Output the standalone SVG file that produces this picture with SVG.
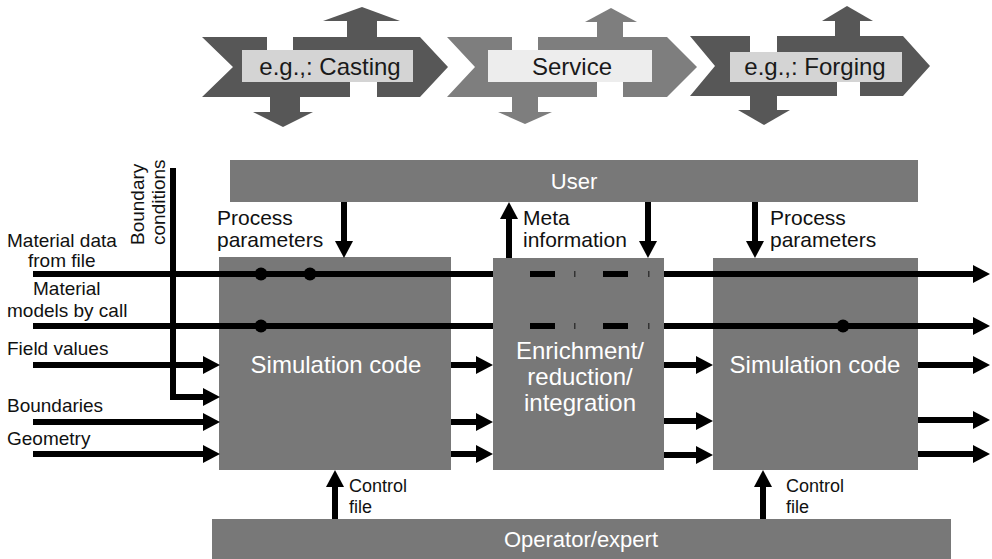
<svg xmlns="http://www.w3.org/2000/svg" width="992" height="559" viewBox="0 0 992 559">
<style>
text{font-family:"Liberation Sans",Arial,sans-serif}
.dark{fill:#575757}
.mid{fill:#7e7e7e}
.lbl{fill:#d4d4d4}
.lbl2{fill:#ededed}
.slit{fill:#ffffff}
.big{font-size:24px;fill:#1a1a1a;text-anchor:middle}
.box{fill:#787878}
.wt{fill:#ffffff;text-anchor:middle;font-size:24px}
.lab{font-size:19px;fill:#111}
.lab2{font-size:21px;fill:#111}
.lab3{font-size:18px;fill:#111}
.ln{stroke:#000;stroke-width:6;fill:none}
.arr{stroke:#000;stroke-width:6;fill:none;marker-end:url(#ah)}
.dot{fill:#000}
.dash{fill:#000}
.tick{fill:#333}
</style>
<defs>
<marker id="ah" markerWidth="18" markerHeight="20" refX="7" refY="10" orient="auto" markerUnits="userSpaceOnUse">
<path d="M0,1 L17,10 L0,19 z" fill="#000"/>
</marker>
</defs>

<g id="casting">
<polygon class="dark" points="202,37 420,37 448,67 420,97 202,97 233,67"/>
<rect class="dark" x="347" y="20" width="30" height="18"/>
<polygon class="dark" points="323,21 400,21 362,7"/>
<rect class="dark" x="270" y="96" width="30" height="17"/>
<polygon class="dark" points="253,112 313,112 283,127"/>
<rect class="slit" x="267" y="36" width="26" height="15"/>
<rect class="slit" x="350" y="81" width="27" height="17"/>
<rect class="lbl" x="242" y="50" width="171" height="32"/>
<text class="big" x="330" y="75">e.g.,: Casting</text>
</g>

<g id="service">
<polygon class="mid" points="447,37 667,37 697,67 667,97 447,97 475,67"/>
<rect class="mid" x="597" y="21" width="26" height="17"/>
<polygon class="mid" points="585,22 637,22 611,8"/>
<rect class="mid" x="512" y="96" width="26" height="17"/>
<polygon class="mid" points="498,112 552,112 525,124"/>
<rect class="slit" x="512" y="36" width="26" height="15"/>
<rect class="slit" x="597" y="81" width="26" height="17"/>
<rect class="lbl2" x="488" y="50" width="164" height="32"/>
<text class="big" x="572" y="75">Service</text>
</g>

<g id="forging">
<polygon class="dark" points="690,36 903,36 930,66 903,96 690,96 715,66"/>
<rect class="dark" x="835" y="20" width="25" height="17"/>
<polygon class="dark" points="822,21 873,21 847,6"/>
<rect class="dark" x="750" y="95" width="27" height="16"/>
<polygon class="dark" points="738,110 790,110 764,125"/>
<rect class="slit" x="750" y="35" width="27" height="17"/>
<rect class="slit" x="837" y="81" width="23" height="16"/>
<rect class="lbl" x="730" y="52" width="172" height="30"/>
<text class="big" x="815" y="75">e.g.,: Forging</text>
</g>

<g id="user">
<rect class="box" x="230" y="160" width="688" height="42"/>
<text class="wt" x="574" y="189" style="font-size:22px">User</text>
</g>

<g id="sim1">
<rect class="box" x="219" y="257" width="232" height="213"/>
<text class="wt" x="336" y="373">Simulation code</text>
</g>

<g id="enrich">
<rect class="box" x="493" y="258" width="171" height="212"/>
<text class="wt" x="580" y="359">Enrichment/</text>
<text class="wt" x="580" y="385">reduction/</text>
<text class="wt" x="580" y="411">integration</text>
</g>

<g id="sim2">
<rect class="box" x="713" y="258" width="205" height="212"/>
<text class="wt" x="815" y="373">Simulation code</text>
</g>

<g id="operator">
<rect class="box" x="212" y="519" width="739" height="40"/>
<text class="wt" x="581" y="547" style="font-size:22px">Operator/expert</text>
</g>

<g id="labels">
<text class="lab" x="7" y="247">Material data</text>
<text class="lab" x="28" y="267">from file</text>
<text class="lab" x="33" y="295">Material</text>
<text class="lab" x="7" y="317">models by call</text>
<text class="lab" x="7" y="355">Field values</text>
<text class="lab" x="7" y="412">Boundaries</text>
<text class="lab" x="7" y="445">Geometry</text>
<text class="lab" transform="translate(144,245) rotate(-90)">Boundary</text>
<text class="lab" transform="translate(165,245) rotate(-90)">conditions</text>
<text class="lab2" x="217" y="225">Process</text>
<text class="lab2" x="217" y="247">parameters</text>
<text class="lab2" x="523" y="225">Meta</text>
<text class="lab2" x="523" y="247">information</text>
<text class="lab2" x="770" y="225">Process</text>
<text class="lab2" x="770" y="247">parameters</text>
<text class="lab3" x="349" y="492">Control</text>
<text class="lab3" x="349" y="513">file</text>
<text class="lab3" x="786" y="492">Control</text>
<text class="lab3" x="786" y="513">file</text>
</g>

<g id="connectors">
<line class="ln" x1="33" y1="274" x2="493" y2="274"/>
<line class="arr" x1="664" y1="274" x2="980" y2="274"/>
<line class="ln" x1="33" y1="326" x2="493" y2="326"/>
<line class="arr" x1="664" y1="326" x2="980" y2="326"/>
<rect class="dash" x="530" y="271" width="25" height="6"/>
<rect class="tick" x="574" y="271" width="1.5" height="6"/>
<rect class="dash" x="603" y="271" width="25" height="6"/>
<rect class="tick" x="648" y="271" width="1.5" height="6"/>
<rect class="dash" x="530" y="323" width="25" height="6"/>
<rect class="tick" x="574" y="323" width="1.5" height="6"/>
<rect class="dash" x="603" y="323" width="25" height="6"/>
<rect class="tick" x="648" y="323" width="1.5" height="6"/>
<circle class="dot" cx="261" cy="274" r="6.5"/>
<circle class="dot" cx="310" cy="274" r="6.5"/>
<circle class="dot" cx="261" cy="326" r="6.5"/>
<circle class="dot" cx="843" cy="326" r="6.5"/>
<line class="arr" x1="33" y1="365" x2="210" y2="365"/>
<polyline class="arr" points="173,168 173,397 210,397"/>
<line class="arr" x1="33" y1="422" x2="210" y2="422"/>
<line class="arr" x1="33" y1="454" x2="210" y2="454"/>
<line class="arr" x1="451" y1="365" x2="483" y2="365"/>
<line class="arr" x1="451" y1="422" x2="483" y2="422"/>
<line class="arr" x1="451" y1="454" x2="483" y2="454"/>
<line class="arr" x1="664" y1="365" x2="703" y2="365"/>
<line class="arr" x1="664" y1="421" x2="703" y2="421"/>
<line class="arr" x1="664" y1="455" x2="703" y2="455"/>
<line class="arr" x1="918" y1="365" x2="980" y2="365"/>
<line class="arr" x1="918" y1="420" x2="980" y2="420"/>
<line class="arr" x1="918" y1="454" x2="980" y2="454"/>
<line class="arr" x1="344" y1="202" x2="344" y2="248"/>
<line class="arr" x1="509" y1="258" x2="509" y2="212"/>
<line class="arr" x1="648" y1="202" x2="648" y2="248"/>
<line class="arr" x1="755" y1="202" x2="755" y2="248"/>
<line class="arr" x1="335" y1="519" x2="335" y2="480"/>
<line class="arr" x1="763" y1="519" x2="763" y2="480"/>
</g>
</svg>
